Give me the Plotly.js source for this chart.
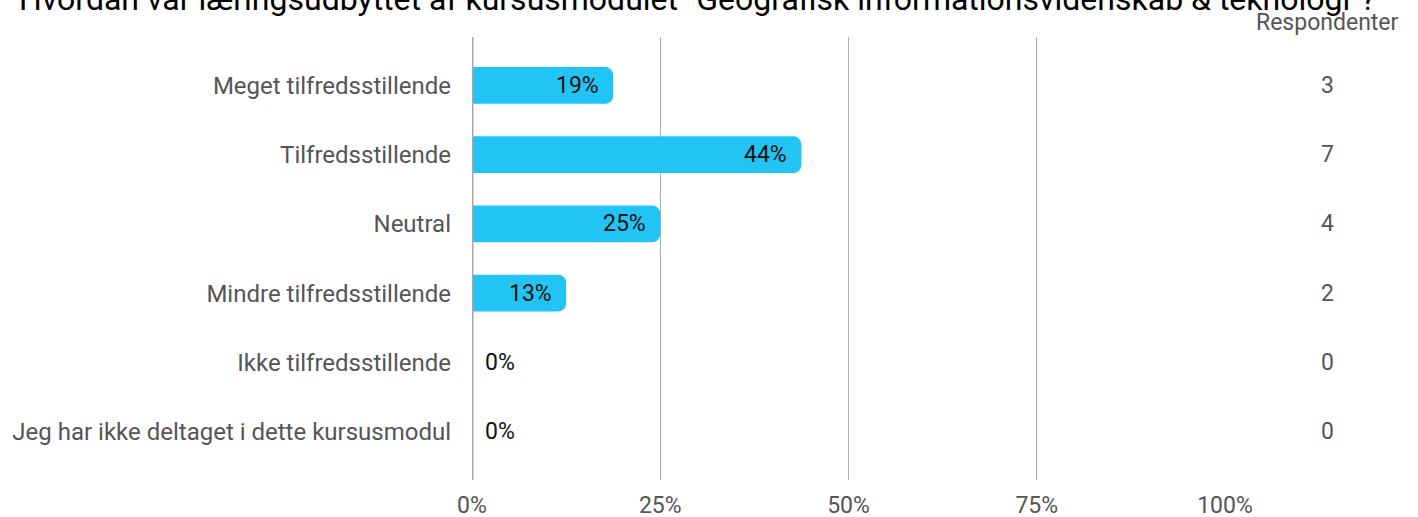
<!DOCTYPE html>
<html>
<head>
<meta charset="utf-8">
<script src="https://cdn.plot.ly/plotly-3.0.1.min.js"></script>
<style>html,body{margin:0;padding:0;background:#fff;}#chart{width:1418px;height:517px;}</style>
</head>
<body>
<div id="chart"></div>
<script>
const titleText = 'Hvordan var læringsudbyttet af kursusmodulet "Geografisk informationsvidenskab & teknologi"?';
const categories = ["Meget tilfredsstillende", "Tilfredsstillende", "Neutral", "Mindre tilfredsstillende", "Ikke tilfredsstillende", "Jeg har ikke deltaget i dette kursusmodul"];
const shares = [0.1875, 0.4375, 0.25, 0.125, 0, 0];
const shareLabels = ["19%", "44%", "25%", "13%", "0%", "0%"];
const respondents = [3, 7, 4, 2, 0, 0];
const tickVals = [0, 0.25, 0.5, 0.75, 1];
const tickText = ["0%", "25%", "50%", "75%", "100%"];
const columnHeader = "Respondenter";

const trace = {
  type: 'bar',
  orientation: 'h',
  x: shares,
  y: categories,
  marker: {color: '#22C4F3', cornerradius: 8},
  width: 0.53,
  hoverinfo: 'none'
};

const annotations = [];
categories.forEach((c, i) => {
  const v = shares[i];
  annotations.push({
    x: v, y: c, xref: 'x', yref: 'y',
    text: shareLabels[i],
    showarrow: false,
    xanchor: v > 0 ? 'right' : 'left',
    xshift: v > 0 ? -12 : 11,
    font: {family: 'Roboto, sans-serif', size: 23, color: '#111'}
  });
  annotations.push({
    x: 1.1355, y: c, xref: 'paper', yref: 'y',
    text: String(respondents[i]),
    showarrow: false,
    xanchor: 'center',
    font: {family: 'Roboto, sans-serif', size: 23, color: '#555'}
  });
});
annotations.push({
  x: 1.1355, y: 1.032, xref: 'paper', yref: 'paper',
  text: columnHeader, showarrow: false, xanchor: 'center', yanchor: 'middle',
  font: {family: 'Roboto, sans-serif', size: 23, color: '#555'}
});
annotations.push({
  x: 0.2994, y: 1.085, xref: 'paper', yref: 'paper',
  text: titleText, showarrow: false, xanchor: 'center', yanchor: 'middle',
  font: {family: 'Roboto, sans-serif', size: 32, color: '#000'}
});

const layout = {
  width: 1418, height: 517,
  margin: {l: 472, r: 193, t: 37, b: 37},
  paper_bgcolor: '#fff', plot_bgcolor: '#fff',
  showlegend: false,
  bargap: 0.47,
  xaxis: {
    range: [0, 1.0],
    tickvals: tickVals, ticktext: tickText,
    showgrid: true, gridcolor: '#b0b0b0', gridwidth: 1,
    zeroline: false, showline: false,
    ticks: '',
    ticklabelstandoff: 9,
    tickfont: {family: 'Roboto, sans-serif', size: 23, color: '#555'},
    fixedrange: true
  },
  yaxis: {
    type: 'category',
    range: [5.7, -0.7],
    showgrid: false, zeroline: false,
    showline: false,
    ticks: '',
    ticklabelstandoff: 20,
    tickfont: {family: 'Roboto, sans-serif', size: 24, color: '#555'},
    fixedrange: true
  },
  shapes: [{
    type: 'line', xref: 'x', yref: 'paper', x0: 0, x1: 0, y0: 0, y1: 1,
    line: {color: '#a8a8a8', width: 3}
  }],
  annotations: annotations
};

Plotly.newPlot('chart', [trace], layout, {displayModeBar: false, staticPlot: true});
</script>
</body>
</html>
